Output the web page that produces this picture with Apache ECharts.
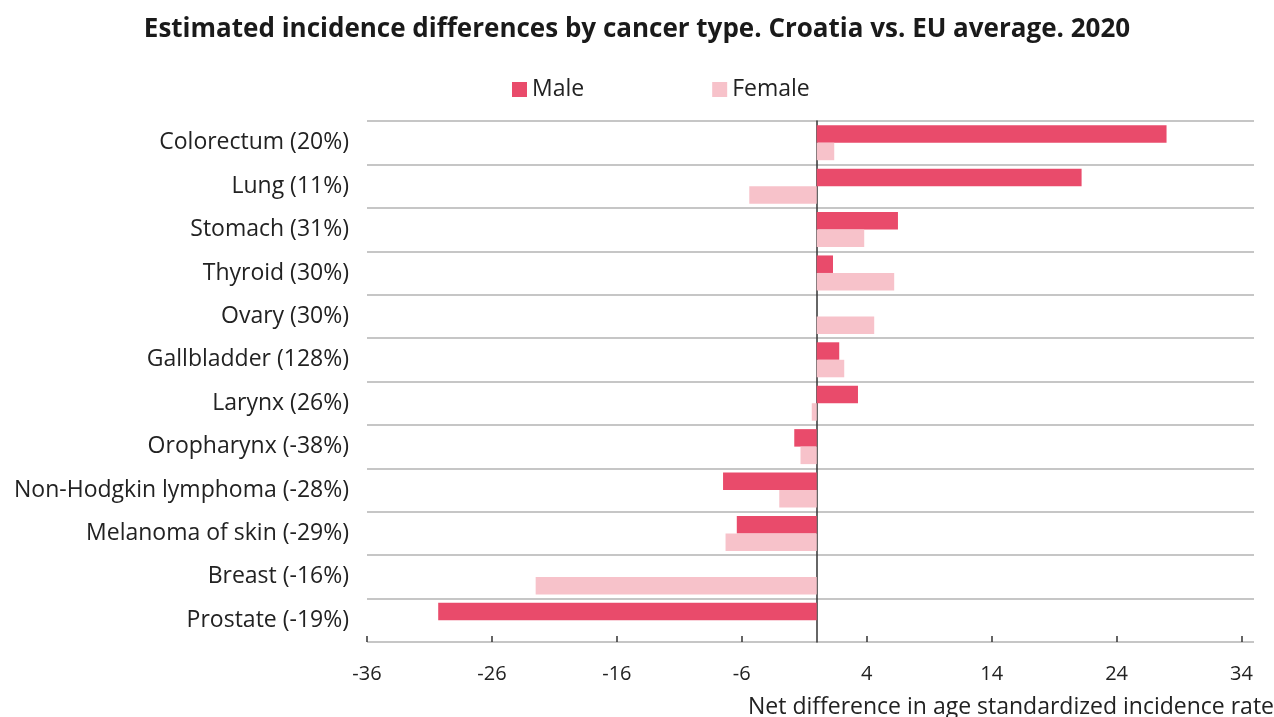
<!DOCTYPE html>
<html>
<head>
<meta charset="utf-8">
<script src="https://cdn.jsdelivr.net/npm/echarts@6/dist/echarts.min.js"></script>
<style>
  html, body { margin: 0; padding: 0; background: #fff; }
  #chart { width: 1274px; height: 717px; }
</style>
</head>
<body>
<div id="chart"></div>
<script>
  // cancer types, top to bottom
  const categories = [
    'Colorectum (20%)', 'Lung (11%)', 'Stomach (31%)', 'Thyroid (30%)',
    'Ovary (30%)', 'Gallbladder (128%)', 'Larynx (26%)', 'Oropharynx (-38%)',
    'Non-Hodgkin lymphoma (-28%)', 'Melanoma of skin (-29%)', 'Breast (-16%)', 'Prostate (-19%)'
  ];
  const maleValues = [28.0, 21.2, 6.5, 1.3, null, 1.8, 3.3, -1.8, -7.5, -6.4, null, -30.3];
  const femaleValues = [1.4, -5.4, 3.8, 6.2, 4.6, 2.2, -0.4, -1.3, -3.0, -7.3, -22.5, null];
  const xTicks = [-36, -26, -16, -6, 4, 14, 24, 34];

  const font = '"Open Sans", sans-serif';
  const chart = echarts.init(document.getElementById('chart'));

  const option = {
    animation: false,
    textStyle: { fontFamily: font },
    title: {
      text: 'Estimated incidence differences by cancer type. Croatia vs. EU average. 2020',
      left: 'center',
      top: 12,
      textStyle: { fontFamily: font, fontSize: 26, fontWeight: 'bold', color: '#1a1a1a' }
    },
    legend: {
      top: 73,
      left: 507,
      itemWidth: 15,
      itemHeight: 15,
      itemGap: 128,
      icon: 'rect',
      textStyle: { fontFamily: font, fontSize: 23, color: '#222' },
      data: ['Male', 'Female']
    },
    grid: { left: 367, right: 20, top: 121, bottom: 75, outerBoundsMode: 'none', containLabel: false },
    xAxis: {
      type: 'value',
      min: -36,
      max: 35,
      interval: 10,
      z: 5,
      name: 'Net difference in age standardized incidence rate',
      nameLocation: 'end',
      nameGap: 20,
      nameTextStyle: {
        fontFamily: font, fontSize: 23, color: '#222',
        align: 'right', verticalAlign: 'top', padding: [54, 0, 0, 0]
      },
      splitLine: { show: false },
      axisLine: { onZero: false, lineStyle: { color: '#333', width: 1.5 } },
      axisTick: { show: true, inside: true, length: 6, customValues: xTicks, lineStyle: { color: '#333', width: 1.5 } },
      axisLabel: { customValues: xTicks, margin: 22, fontSize: 20, color: '#222', fontFamily: font }
    },
    yAxis: {
      type: 'category',
      inverse: true,
      data: categories,
      axisLine: { onZero: true, lineStyle: { color: '#333', width: 1.5 } },
      axisTick: { show: false },
      axisLabel: { margin: 18, fontSize: 23, color: '#222', fontFamily: font, padding: [4, 0, 0, 0] },
      splitLine: { show: true, lineStyle: { color: '#b3b3b3', width: 1.5 } }
    },
    series: [
      {
        name: 'Male',
        type: 'bar',
        data: maleValues,
        barWidth: 17.5,
        barGap: '0%',
        itemStyle: { color: '#e94b6b' }
      },
      {
        name: 'Female',
        type: 'bar',
        data: femaleValues,
        barWidth: 17.5,
        barGap: '0%',
        itemStyle: { color: '#f7c2ca' }
      }
    ]
  };
  chart.setOption(option);
</script>
</body>
</html>
